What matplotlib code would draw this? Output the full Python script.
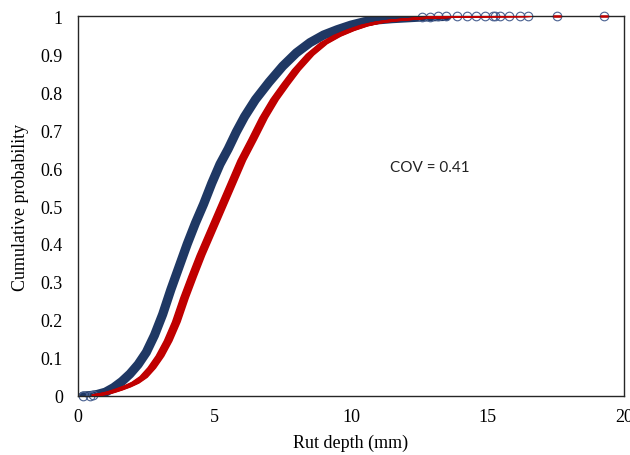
import numpy as np
import matplotlib
matplotlib.use('Agg')
import matplotlib.pyplot as plt
import matplotlib.transforms as mtransforms

blue_x = [0.18, 0.44, 0.7, 1.0, 1.3, 1.6, 1.9, 2.2, 2.5, 2.8, 3.1, 3.4, 3.7,
          4.0, 4.3, 4.6, 4.9, 5.2, 5.5, 5.8, 6.1, 6.5, 7.0, 7.5, 8.0, 8.5,
          9.0, 9.5, 10.0, 10.5, 11.0, 11.5, 12.0, 12.5, 13.0, 13.5]
blue_p = [0.0, 0.001, 0.004, 0.010, 0.022, 0.038, 0.058, 0.083, 0.115, 0.160,
          0.215, 0.280, 0.340, 0.400, 0.455, 0.505, 0.560, 0.610, 0.650, 0.695,
          0.735, 0.780, 0.826, 0.868, 0.903, 0.930, 0.950, 0.964, 0.976, 0.985,
          0.990, 0.993, 0.995, 0.997, 0.998, 0.999]

# isolated circles in the tails
tail_x = [0.18, 0.44, 0.55, 12.6, 12.9, 13.2, 13.5, 13.9, 14.25, 14.6, 14.9,
          15.2, 15.3, 15.45, 15.8, 16.2, 16.5, 17.55, 19.27]
tail_p = [0.0, 0.001, 0.002, 0.998, 0.998, 0.999, 0.999, 0.999, 0.9995, 0.9995,
          0.9995, 0.9995, 0.9995, 1.0, 1.0, 1.0, 1.0, 1.0, 1.0]

# Fitted distribution (red)
red_x = [0.62, 0.9, 1.2, 1.5, 1.8, 2.1, 2.4, 2.7, 3.0, 3.3, 3.6, 3.9, 4.2,
         4.5, 4.8, 5.1, 5.4, 5.7, 6.0, 6.4, 6.8, 7.2, 7.6, 8.0, 8.5, 9.0,
         9.5, 10.0, 10.5, 11.0, 11.5, 12.0, 12.5, 13.0, 14.0, 15.0, 16.5,
         17.55, 19.27]
red_p = [0.002, 0.005, 0.010, 0.017, 0.025, 0.035, 0.050, 0.074, 0.105, 0.145,
         0.195, 0.258, 0.315, 0.370, 0.420, 0.470, 0.520, 0.570, 0.620, 0.675,
         0.732, 0.780, 0.820, 0.858, 0.898, 0.928, 0.948, 0.963, 0.975, 0.983,
         0.988, 0.991, 0.994, 0.996, 0.998, 0.9993, 0.9997, 0.9999, 1.0]

navy = '#1F3864'
red = '#C00000'

fig = plt.figure(figsize=(6.3, 4.56), dpi=100)
ax = fig.add_axes([0.124, 0.1294, 0.866, 0.8333])

# red curve: thin line smeared horizontally (like many small dash markers)
rx = np.array(red_x)
rp = np.array(red_p)
body = rx <= 16.5
for dx in np.arange(-3.5, 3.6, 0.875):
    off = mtransforms.ScaledTranslation(dx / 100, 0, fig.dpi_scale_trans)
    ax.plot(rx[body], rp[body], color=red, lw=1.4, solid_capstyle='butt',
            transform=ax.transData + off, zorder=3)
ax.plot(rx[~body], rp[~body], ls='none', marker='_', ms=6, mew=1.8,
        color=red, zorder=3, clip_on=False)

# blue measured data: dense open circles -> thick band
ax.plot(blue_x, blue_p, color=navy, lw=6.6, solid_capstyle='round', zorder=2)
ax.plot(tail_x, tail_p, ls='none', marker='o', ms=6.2, mfc='none',
        mec='#4A6190', mew=0.8, zorder=2, clip_on=False)

ax.set_xlim(0, 20)
ax.set_ylim(0, 1)
ax.set_xticks([0, 5, 10, 15, 20])
ax.set_xticklabels(['0', '5', '10', '15', '20'])
ax.set_yticks(np.arange(0, 1.01, 0.1))
ax.set_yticklabels(['0', '0.1', '0.2', '0.3', '0.4', '0.5', '0.6', '0.7',
                    '0.8', '0.9', '1'])
ax.tick_params(length=0, labelsize=13, colors='black')
ax.tick_params(axis='y', pad=11)
ax.tick_params(axis='x', pad=9)
for lab in ax.get_xticklabels() + ax.get_yticklabels():
    lab.set_fontfamily('Liberation Serif')
for s in ax.spines.values():
    s.set_color('#262626')
    s.set_linewidth(1.0)

ax.set_xlabel('Rut depth (mm)', fontfamily='Liberation Serif', fontsize=13,
              labelpad=6)
ax.set_ylabel('Cumulative probability', fontfamily='Liberation Serif',
              fontsize=13, labelpad=8)

ax.text(11.43, 0.603, 'COV = 0.41', fontfamily='Lato', fontsize=11,
        va='center', ha='left', color='#222222')

fig.savefig('out.png', dpi=100)
